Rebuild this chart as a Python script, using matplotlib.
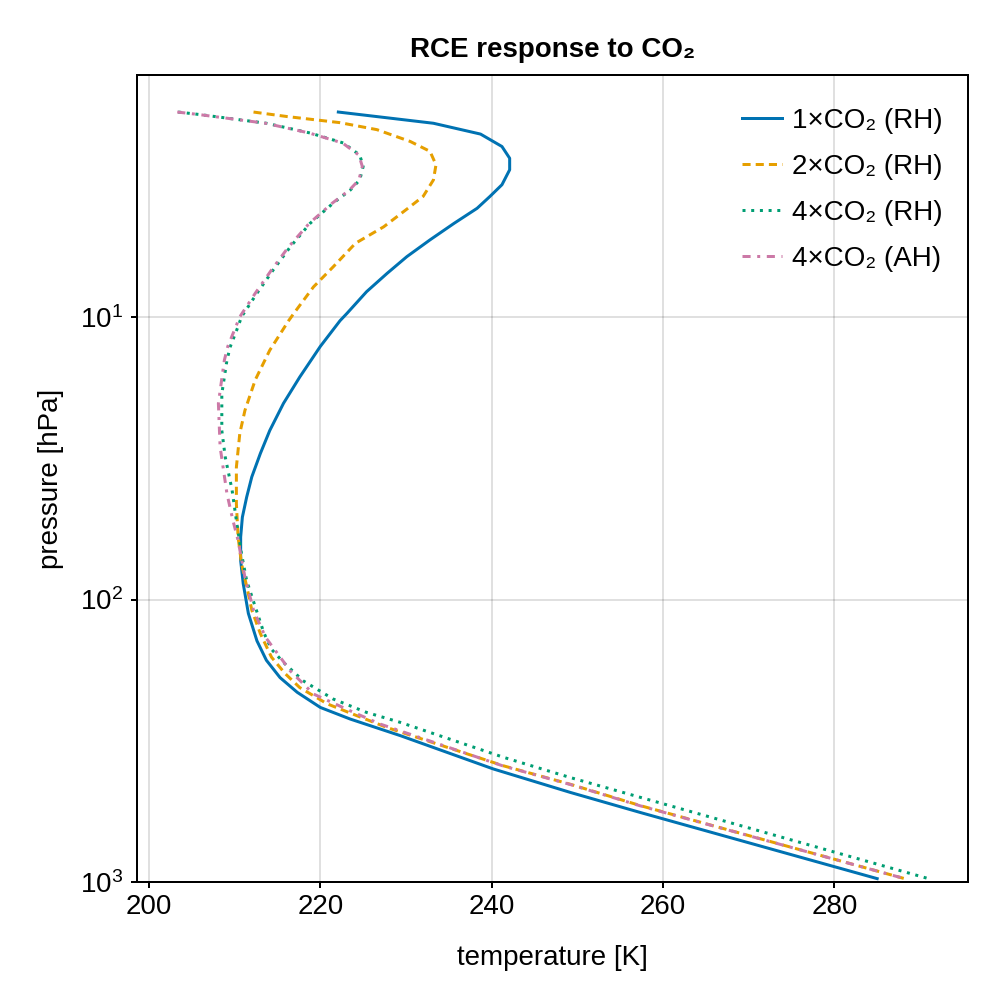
import matplotlib
matplotlib.use("Agg")
import matplotlib.pyplot as plt
from matplotlib.ticker import LogLocator, NullLocator

plt.rcParams['font.family'] = ['Liberation Sans', 'DejaVu Sans']

# 1xCO2 (RH): pressure [hPa], temperature [K]
p_1x = [1.88, 2.06, 2.25, 2.49, 2.74, 3.01, 3.40, 3.74, 4.12, 4.66, 5.33, 6.11,
        7.00, 8.13, 9.71, 10.3, 12.7, 16.3, 20.2, 25.2, 30.4, 36.8, 43.4, 51.1,
        60.1, 72.8, 87.9, 112, 140, 164, 189, 213, 241, 265, 303, 398, 482, 568, 973]
t_1x = [222.1, 233.2, 238.7, 241.2, 242.1, 242.1, 241.2, 239.8, 238.3, 235.6, 232.8, 230.1,
        227.8, 225.4, 223.1, 222.3, 220.0, 217.6, 215.7, 214.1, 213.0, 212.0, 211.4, 210.9,
        210.7, 210.7, 211.0, 211.6, 212.6, 213.7, 215.3, 217.3, 220.0, 223.5, 229.3,
        240.2, 249.2, 257.4, 285.0]

# 2xCO2 (RH)
p_2x = [1.88, 1.95, 2.05, 2.17, 2.39, 2.59, 2.89, 3.27, 3.74, 4.06, 4.79, 5.48,
        6.64, 7.82, 9.71, 10.3, 13.1, 16.7, 21.4, 25.8, 34.0, 45.8, 60.1, 74.6,
        95.5, 109, 132, 160, 183, 205, 234, 258, 284, 388, 451, 537, 971]
t_2x = [212.2, 216.1, 222.3, 226.6, 230.5, 232.8, 233.5, 233.2, 232.0, 230.5, 227.4, 224.1,
        221.5, 219.2, 216.9, 216.3, 214.1, 212.4, 211.2, 210.6, 210.2, 210.2, 210.4, 210.8,
        211.6, 212.0, 213.0, 214.3, 215.9, 217.6, 220.8, 224.3, 227.8, 241.4, 249.2, 257.4, 288.1]

# 4xCO2 (RH)
p_4x = [1.88, 1.92, 2.06, 2.23, 2.42, 2.67, 2.93, 3.27, 3.55, 3.95, 4.66, 5.64,
        6.81, 8.24, 9.98, 10.8, 12.7, 14.2, 18.7, 25.2, 31.3, 41.0, 52.5, 68.9,
        85.7, 106, 131, 150, 167, 194, 225, 251, 272, 362, 427, 502, 975]
t_4x = [203.4, 206.0, 213.7, 218.8, 222.7, 224.6, 225.0, 224.6, 223.5, 221.5, 218.8, 216.5,
        214.5, 212.6, 210.8, 210.4, 209.5, 209.1, 208.5, 208.5, 208.9, 209.7, 210.2, 210.8,
        211.4, 212.4, 213.4, 214.3, 215.7, 218.0, 221.5, 225.4, 229.3, 241.4, 249.2, 257.4, 291.1]

# 4xCO2 (AH)
p_4x_ah = [1.88, 1.92, 2.06, 2.23, 2.42, 2.67, 2.93, 3.27, 3.55, 3.95, 4.66, 5.64,
           6.81, 8.24, 9.98, 12.7, 14.2, 20.2, 28.8, 42.2, 52.5, 61.8, 83.4, 109,
           136, 179, 216, 251, 276, 388, 451, 537, 971]
t_4x_ah = [203.3, 205.9, 213.6, 218.7, 222.6, 224.5, 224.9, 224.5, 223.4, 221.4, 218.7, 216.3,
           214.3, 212.4, 210.6, 209.2, 208.8, 208.1, 208.3, 209.1, 209.8, 210.4, 211.2, 212.2,
           213.6, 216.5, 219.2, 223.9, 227.0, 241.3, 249.1, 257.3, 288.1]

labels = ['1×CO₂ (RH)', '2×CO₂ (RH)', '4×CO₂ (RH)', '4×CO₂ (AH)']
colors = ['#0072B2', '#E69F00', '#009E73', '#CC79A7']
styles = ['-', (0, (2.7, 1.7)), (0, (1, 1.9)), (0, (2.7, 2.2, 1, 2.2))]

fig = plt.figure(figsize=(10, 10), dpi=100)
ax = fig.add_axes([0.137, 0.118, 0.831, 0.807])

lw = 2.16
series = [(t_1x, p_1x), (t_2x, p_2x), (t_4x, p_4x), (t_4x_ah, p_4x_ah)]
for (t, p), lab, c, ls in zip(series, labels, colors, styles):
    ax.plot(t, p, color=c, linestyle=ls, lw=lw, label=lab)

ax.set_yscale('log')
ax.set_ylim(1000, 1.39)
ax.set_xlim(198.6, 295.6)
ax.yaxis.set_major_locator(LogLocator(base=10, numticks=10))
ax.yaxis.set_minor_locator(NullLocator())
ax.set_xticks([200, 220, 240, 260, 280])

ax.grid(True, color='black', alpha=0.12, lw=1.44)
ax.set_axisbelow(True)
for s in ax.spines.values():
    s.set_linewidth(1.44)
ax.tick_params(labelsize=20, length=4.3, width=1.44, direction='out', pad=4)
ax.tick_params(axis='y', pad=6)

ax.set_xlabel('temperature [K]', fontsize=20, labelpad=18)
ax.set_ylabel('pressure [hPa]', fontsize=20, labelpad=11)
ax.set_title('RCE response to CO₂', fontsize=20, fontweight='bold', pad=13)

ax.legend(loc='upper right', bbox_to_anchor=(1.0025, 0.994), frameon=False,
          fontsize=20, handlelength=1.44, handletextpad=0.36, labelspacing=0.72,
          borderaxespad=0.6)

fig.savefig('out.png', dpi=100)
